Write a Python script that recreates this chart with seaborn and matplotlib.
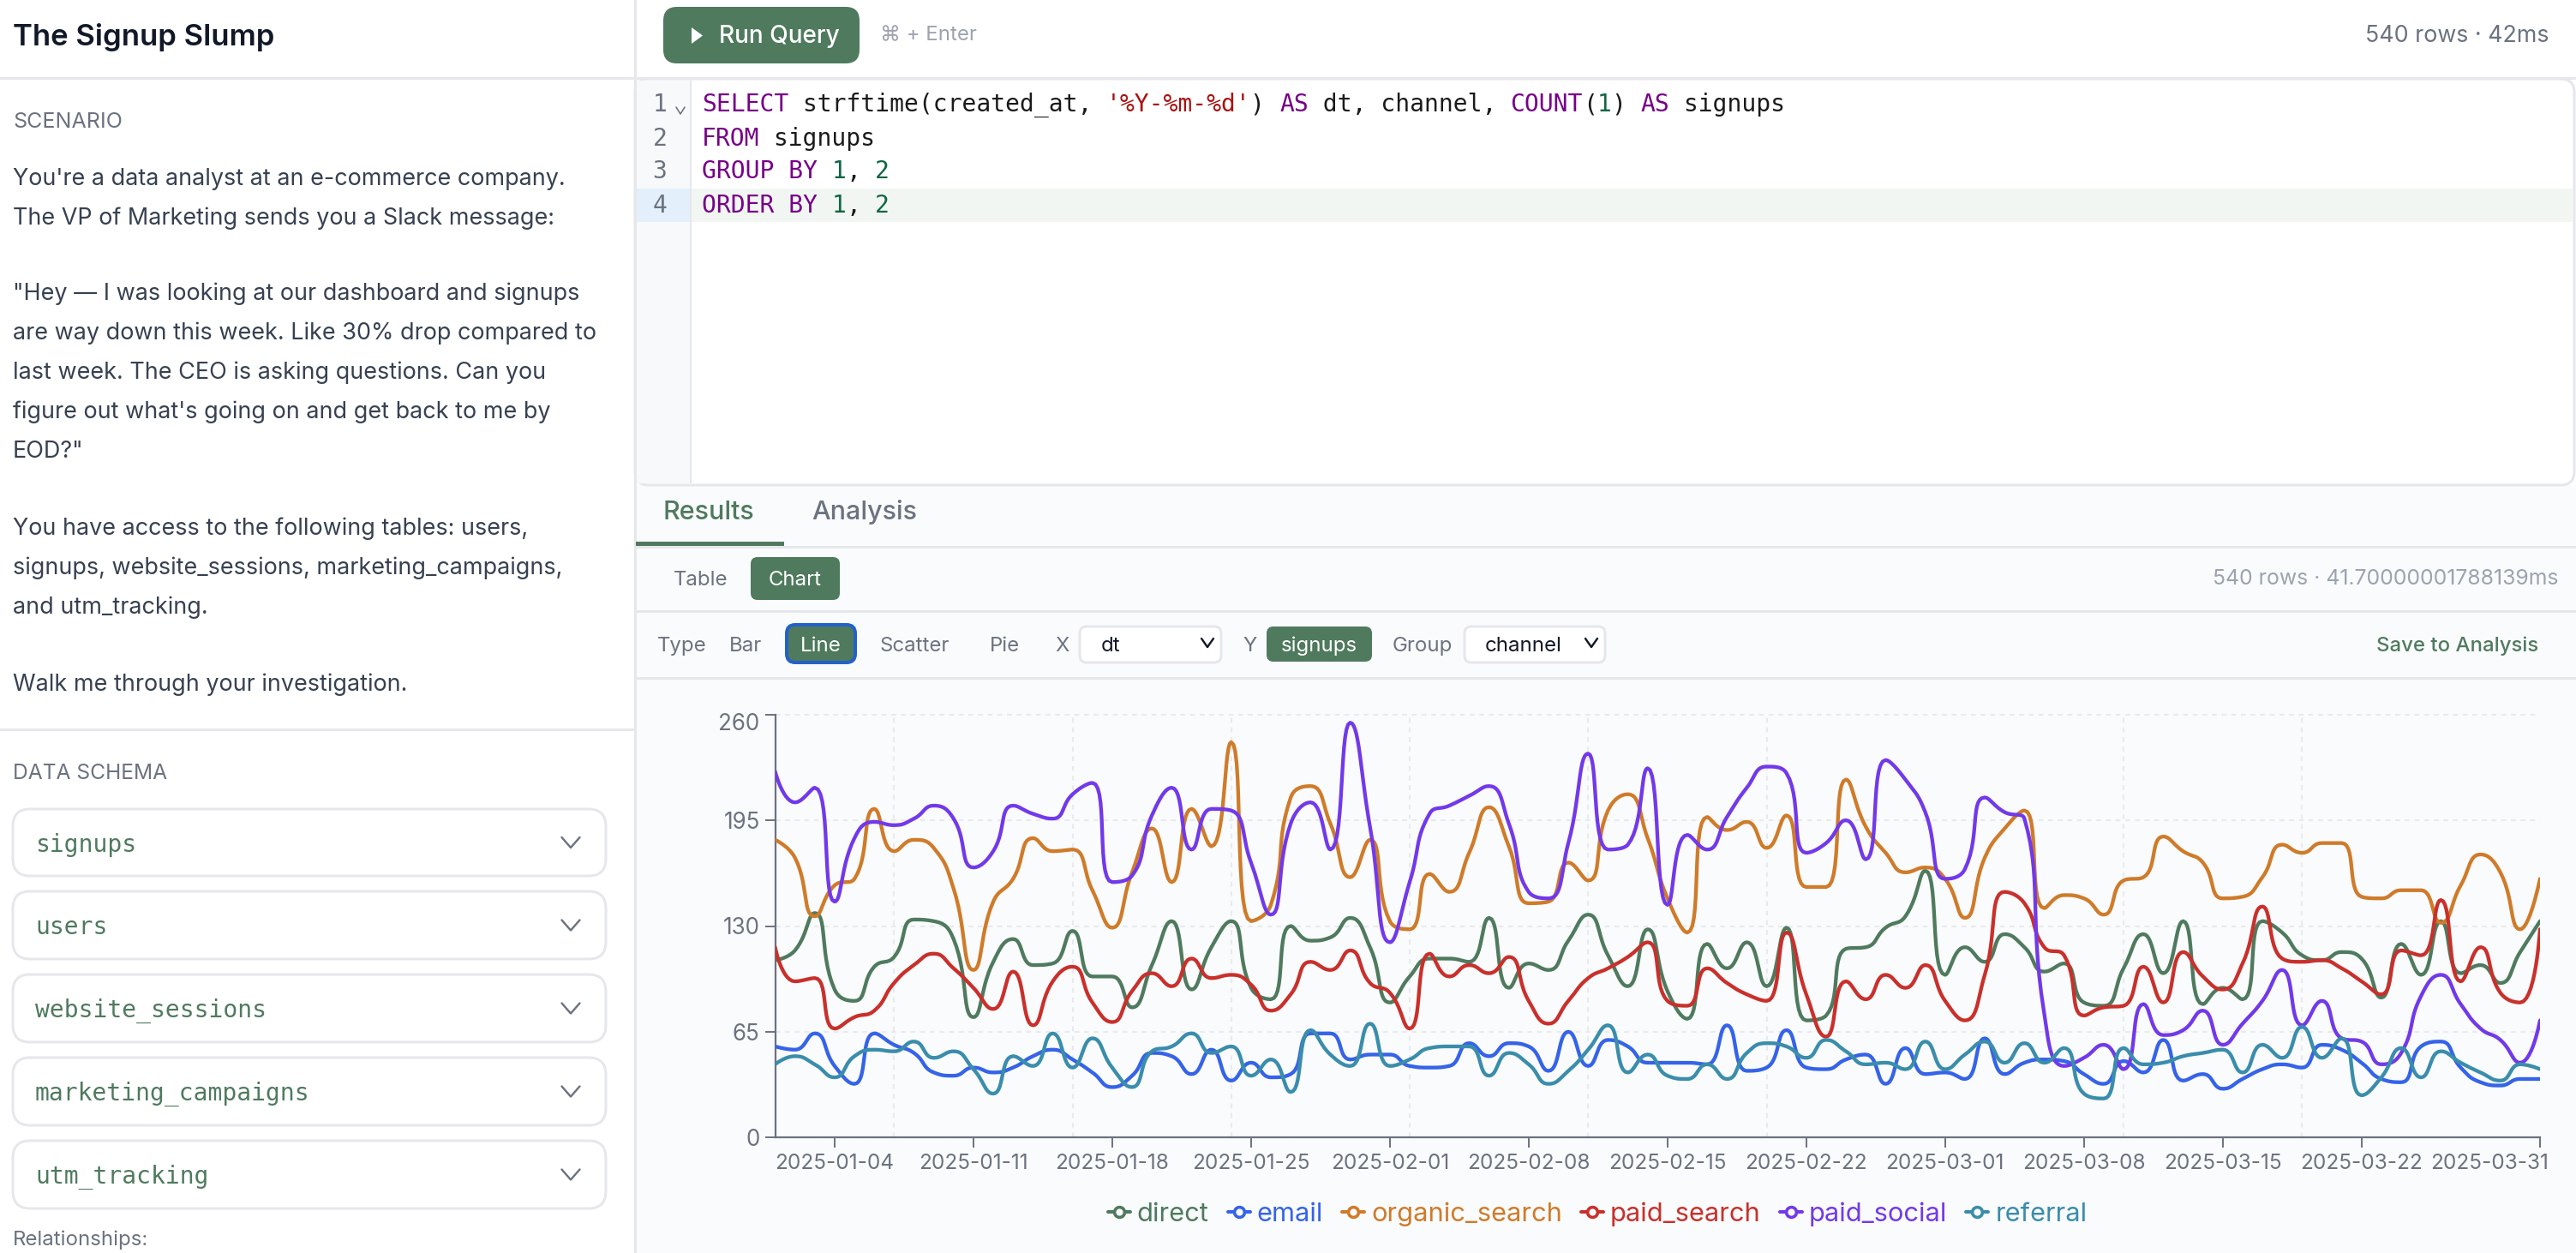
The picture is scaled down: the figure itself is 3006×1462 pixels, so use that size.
import numpy as np
import pandas as pd
import matplotlib
matplotlib.use("Agg")
import matplotlib.pyplot as plt
import seaborn as sns
from matplotlib.lines import Line2D
from matplotlib.patches import FancyBboxPatch, Polygon, Rectangle
from matplotlib.transforms import ScaledTranslation

# Values, one per day
direct = [109, 115, 138, 91, 84, 105, 111, 134, 133, 122, 74, 108, 122, 106, 107, 127, 99, 99, 80, 106, 133,
          91, 117, 133, 92, 85, 130, 121, 123, 135, 117, 83, 99, 110, 110, 108, 135, 92, 107, 103, 121, 137, 112, 93, 128, 90,
          73, 119, 104, 120, 93, 129, 72, 75, 116, 117, 129, 136, 164, 100, 117, 108, 125, 117, 102, 107, 83, 81, 104, 125, 101,
          133, 82, 92, 85, 133, 126, 112, 109, 114, 110, 86, 119, 100, 133, 101, 106, 95, 114, 133]
email = [56, 54, 64, 44, 33, 64, 57, 52, 40, 38, 43, 40, 43, 50, 54, 48, 40, 31, 38, 52, 50,
         39, 54, 35, 46, 37, 39, 64, 64, 48, 51, 51, 44, 43, 44, 58, 50, 58, 56, 41, 65, 44, 60, 56, 46, 46,
         46, 45, 69, 41, 43, 66, 43, 42, 48, 51, 33, 55, 39, 40, 36, 61, 39, 46, 48, 47, 39, 33, 47, 40, 60,
         35, 39, 30, 36, 42, 45, 43, 57, 54, 46, 36, 34, 56, 59, 43, 34, 32, 36, 36]
organic_search = [183, 172, 136, 155, 159, 202, 176, 183, 178, 153, 103, 145, 159, 184, 176, 177, 152, 129, 163, 190, 157,
                  202, 179, 243, 133, 143, 209, 216, 193, 160, 183, 133, 128, 162, 151, 175, 203, 179, 144, 145, 169, 158, 201, 211, 184, 147,
                  126, 197, 189, 194, 178, 198, 154, 154, 220, 191, 175, 163, 166, 159, 135, 172, 190, 201, 141, 149, 147, 137, 158, 160, 185,
                  176, 169, 147, 148, 160, 180, 175, 181, 181, 148, 147, 152, 152, 132, 155, 174, 163, 128, 159]
paid_search = [117, 96, 98, 67, 74, 78, 95, 106, 113, 104, 92, 79, 102, 69, 96, 105, 83, 71, 90, 101, 93,
               110, 98, 100, 94, 78, 88, 108, 103, 115, 95, 89, 67, 113, 99, 106, 101, 111, 84, 70, 84, 98, 104, 111, 120, 84,
               81, 104, 95, 88, 84, 126, 88, 62, 96, 85, 100, 92, 106, 84, 72, 100, 151, 144, 117, 112, 75, 80, 81, 105, 83,
               114, 99, 91, 107, 142, 110, 108, 109, 104, 96, 88, 115, 112, 146, 96, 117, 89, 83, 128]
paid_social = [225, 206, 215, 145, 184, 194, 192, 196, 204, 196, 166, 176, 204, 199, 196, 211, 218, 157, 161, 198, 215,
               177, 202, 201, 169, 137, 193, 206, 177, 255, 191, 120, 157, 199, 204, 210, 216, 193, 151, 147, 181, 236, 177, 180, 227, 143,
               186, 177, 197, 215, 228, 224, 175, 181, 195, 171, 232, 220, 200, 159, 165, 209, 200, 196, 76, 44, 49, 57, 42, 82, 63,
               66, 78, 57, 70, 84, 103, 69, 84, 61, 59, 45, 52, 87, 100, 82, 67, 60, 46, 72]
referral = [45, 50, 45, 37, 50, 54, 53, 59, 49, 53, 42, 27, 50, 44, 64, 43, 61, 43, 31, 53, 56,
            64, 52, 56, 38, 48, 28, 66, 51, 44, 70, 44, 48, 55, 56, 56, 38, 52, 45, 33, 41, 54, 69, 40, 51, 38,
            36, 45, 36, 52, 58, 56, 49, 60, 53, 45, 46, 42, 59, 42, 51, 59, 46, 58, 46, 55, 27, 24, 55, 45, 46,
            50, 52, 54, 40, 57, 49, 68, 49, 61, 26, 37, 55, 37, 53, 46, 40, 35, 45, 42]

dates = [d.strftime("%Y-%m-%d") for d in pd.date_range("2025-01-01", "2025-03-31")]
channels = ["direct", "email", "organic_search", "paid_search", "paid_social", "referral"]
series = [direct, email, organic_search, paid_search, paid_social, referral]
channel_colors = ["#4f7a5e", "#3563e9", "#cf7b2a", "#c9302c", "#7239ea", "#3a8dab"]

x_tick_labels = ["2025-01-04", "2025-01-11", "2025-01-18", "2025-01-25", "2025-02-01", "2025-02-08", "2025-02-15",
                 "2025-02-22", "2025-03-01", "2025-03-08", "2025-03-15", "2025-03-22", "2025-03-31"]
x_grid_dates = ["2025-01-07", "2025-01-16", "2025-01-24", "2025-02-02", "2025-02-11", "2025-02-20", "2025-03-01",
                "2025-03-10", "2025-03-19", "2025-03-31"]
y_ticks = [0, 65, 130, 195, 260]

W, H = 3006, 1462
DPI = 100
AX_LEFT, AX_RIGHT, AX_TOP, AX_BOTTOM = 904.5, 2964, 833.7, 1327.3

GREEN = "#4f7a5e"
BORDER = "#e5e7eb"
PANEL = "#fafbfc"
DARK = "#111827"
BODY = "#374151"
GRAY = "#6b7280"
LIGHT_GRAY = "#9ca3af"


def smooth_curve(values, smooth=0.5, steps=14):
    """Same bezier smoothing the chart library uses: kinks kept, no overshoot past a data point."""
    sx = (AX_RIGHT - AX_LEFT) / (len(values) - 1)
    sy = (AX_BOTTOM - AX_TOP) / 260
    px = np.arange(len(values)) * sx
    py = np.asarray(values, dtype=float) * sy
    n = len(px)
    cp_in = [(px[i], py[i]) for i in range(n)]
    cp_out = [(px[i], py[i]) for i in range(n)]
    for i in range(1, n - 1):
        x, y = px[i], py[i]
        px0, py0, nx, ny = px[i - 1], py[i - 1], px[i + 1], py[i + 1]
        vx, vy = nx - px0, ny - py0
        len_prev = np.hypot(x - px0, y - py0)
        len_next = np.hypot(nx - x, ny - y)
        ratio = len_next / (len_next + len_prev)
        ox = np.clip(x + vx * smooth * ratio, min(nx, x), max(nx, x))
        oy = np.clip(y + vy * smooth * ratio, min(ny, y), max(ny, y))
        ix = x - (ox - x) * len_prev / len_next
        iy = y - (oy - y) * len_prev / len_next
        ix = np.clip(ix, min(px0, x), max(px0, x))
        iy = np.clip(iy, min(py0, y), max(py0, y))
        cp_in[i] = (ix, iy)
        cp_out[i] = (x + (x - ix) * len_next / len_prev, y + (y - iy) * len_next / len_prev)
    t = np.linspace(0, 1, steps, endpoint=False)[:, None]
    parts = []
    for i in range(n - 1):
        p0, p3 = np.array([px[i], py[i]]), np.array([px[i + 1], py[i + 1]])
        p1, p2 = np.array(cp_out[i]), np.array(cp_in[i + 1])
        parts.append((1 - t) ** 3 * p0 + 3 * (1 - t) ** 2 * t * p1 + 3 * (1 - t) * t ** 2 * p2 + t ** 3 * p3)
    parts.append(np.array([[px[-1], py[-1]]]))
    curve = np.vstack(parts)
    return curve[:, 0] / sx, curve[:, 1] / sy


sns.set_theme(style="white")
plt.rcParams["font.family"] = ["Inter", "DejaVu Sans"]

fig = plt.figure(figsize=(W / DPI, H / DPI), dpi=DPI, facecolor="white")

# Page around the chart, drawn in pixel coordinates
ui = fig.add_axes([0, 0, 1, 1], zorder=0)
ui.set_xlim(0, W)
ui.set_ylim(H, 0)
ui.axis("off")


def label(x, y, text, size, color=BODY, **kw):
    kw.setdefault("va", "center")
    ui.text(x, y + 2.5, text, fontsize=size * 72 / DPI, color=color, **kw)


def box(x0, y0, x1, y1, r=0, fc="white", ec="none", lw=2.0, z=1):
    ui.add_patch(FancyBboxPatch((x0, y0), x1 - x0, y1 - y0, boxstyle=f"round,pad=0,rounding_size={r}",
                                fc=fc, ec=ec, lw=lw * 72 / DPI, zorder=z))


def rect(x0, y0, x1, y1, color, z=1):
    ui.add_patch(Rectangle((x0, y0), x1 - x0, y1 - y0, fc=color, ec="none", zorder=z))


def chevron(x, y, w, h, color=GRAY, lw=2.4):
    ui.plot([x - w, x, x + w], [y - h, y + h, y - h], color=color, lw=lw * 72 / DPI, zorder=4)


# Right side background and borders
rect(741, 0, W, 92, "white")
rect(741, 566, W, H, PANEL)
rect(0, 90, 741, 93, BORDER, z=2)
rect(739.5, 0, 742.5, H, BORDER, z=2)
rect(0, 850, 741, 853, BORDER, z=2)
rect(741, 90, W, 93, BORDER, z=2)

# Sidebar
label(15, 41, "The Signup Slump", 34.7, DARK, fontweight="semibold")
label(15, 140, "SCENARIO", 25, GRAY)
sidebar_lines = [
    (206, "You're a data analyst at an e-commerce company."),
    (252, "The VP of Marketing sends you a Slack message:"),
    (340, "\"Hey \u2014 I was looking at our dashboard and signups"),
    (386, "are way down this week. Like 30% drop compared to"),
    (432, "last week. The CEO is asking questions. Can you"),
    (478, "figure out what's going on and get back to me by"),
    (524, "EOD?\""),
    (614, "You have access to the following tables: users,"),
    (660, "signups, website_sessions, marketing_campaigns,"),
    (706, "and utm_tracking."),
    (796, "Walk me through your investigation."),
]
for y, line in sidebar_lines:
    label(15, y, line, 27, BODY)

label(15, 900, "DATA SCHEMA", 24.6, GRAY)
schema_tables = [("signups", 944, 1022), ("users", 1040, 1119), ("website_sessions", 1137, 1216),
                 ("marketing_campaigns", 1234, 1313), ("utm_tracking", 1331, 1410)]
for name, y0, y1 in schema_tables:
    box(15, y0, 707, y1, r=20, ec=BORDER, lw=3)
    label(41, (y0 + y1) / 2, name, 28, GREEN, family="DejaVu Sans Mono")
    chevron(666, (y0 + y1) / 2, 10.5, 6)
label(15, 1444, "Relationships:", 24, GRAY)

# Toolbar
box(774, 8, 1003, 74, r=16, fc=GREEN)
ui.add_patch(Polygon([(807, 32), (807, 51), (820, 41.5)], fc="white", ec="none", zorder=3))
label(839, 40, "Run Query", 28, "white", fontweight="medium", zorder=3)
label(1027, 39, "\u2318 + Enter", 24, LIGHT_GRAY)
label(2975, 39.5, "540 rows \u00b7 42ms", 26.8, GRAY, ha="right")

# Editor
box(741, 92, 3004, 566, r=16, ec=BORDER, lw=3)
rect(743, 94, 805, 564, "#f8f9fa", z=2)
rect(805, 94, 807, 564, BORDER, z=2)
rect(743, 220, 805, 259, "#e3f0fb", z=2)
rect(807, 220, 3002, 259, "#f1f6f2", z=2)

KEYWORD = "#770088"
NUMBER = "#116644"
STRING = "#aa1111"
CODE = "#1a1a1a"
CHAR_W = 16.85
code_lines = [
    (120, [("SELECT", KEYWORD), (" strftime(created_at, ", CODE), ("'%Y-%m-%d'", STRING), (") ", CODE), ("AS", KEYWORD),
           (" dt, channel, ", CODE), ("COUNT", KEYWORD), ("(", CODE), ("1", NUMBER), (") ", CODE), ("AS", KEYWORD),
           (" signups", CODE)]),
    (159, [("FROM", KEYWORD), (" signups", CODE)]),
    (198, [("GROUP BY", KEYWORD), (" ", CODE), ("1", NUMBER), (", ", CODE), ("2", NUMBER)]),
    (238, [("ORDER BY", KEYWORD), (" ", CODE), ("1", NUMBER), (", ", CODE), ("2", NUMBER)]),
]
for num, (y, tokens) in enumerate(code_lines, start=1):
    label(770, y, str(num), 28, GRAY, family="DejaVu Sans Mono", ha="center", zorder=3)
    cursor = 0
    for text, color in tokens:
        label(819 + cursor * CHAR_W, y, text, 28, color, family="DejaVu Sans Mono", zorder=3)
        cursor += len(text)
chevron(794, 129, 5, 4, color=GRAY, lw=1.6)

# Results tabs and chart controls
label(774, 595, "Results", 30.5, GREEN, fontweight="medium")
label(947, 595, "Analysis", 30.5, GRAY, fontweight="medium")
rect(741, 637, W, 640, BORDER, z=2)
rect(742, 632, 915, 637, GREEN, z=3)
label(786, 674.5, "Table", 24, GRAY)
box(876, 650, 980, 700, r=8, fc=GREEN)
label(928, 674.5, "Chart", 24, "white", ha="center", zorder=3)
label(2985, 673, "540 rows \u00b7 41.70000001788139ms", 24.8, LIGHT_GRAY, ha="right")
rect(741, 712, W, 715, BORDER, z=2)

ROW_Y = 751.5
label(767, ROW_Y, "Type", 24, GRAY)
label(851, ROW_Y, "Bar", 24, GRAY)
box(918, 729, 998, 773, r=10, fc=GREEN, ec="#2361c8", lw=4)
label(958, ROW_Y, "Line", 24, "white", ha="center", zorder=3)
label(1027, ROW_Y, "Scatter", 24, GRAY)
label(1155, ROW_Y, "Pie", 24, GRAY)
label(1231, ROW_Y, "X", 24, GRAY)
box(1260, 731, 1425, 773, r=8, ec=BORDER, lw=3)
label(1285, ROW_Y, "dt", 24, DARK)
chevron(1409, 750, 7, 5, color=DARK)
label(1450, ROW_Y, "Y", 24, GRAY)
box(1478, 731, 1601, 772, r=8, fc=GREEN)
label(1539.5, ROW_Y, "signups", 24, "white", ha="center", zorder=3)
label(1625, ROW_Y, "Group", 24, GRAY)
box(1709, 731, 1873, 773, r=8, ec=BORDER, lw=3)
label(1733, ROW_Y, "channel", 24, DARK)
chevron(1857, 750, 7, 5, color=DARK)
label(2962, ROW_Y, "Save to Analysis", 24, GREEN, ha="right", fontweight="medium")
rect(741, 790, W, 793, BORDER, z=2)

# Chart
ax = fig.add_axes([AX_LEFT / W, 1 - AX_BOTTOM / H, (AX_RIGHT - AX_LEFT) / W, (AX_BOTTOM - AX_TOP) / H], zorder=2)
ax.set_facecolor("none")

frames = []
for name, values in zip(channels, series):
    xs, ys = smooth_curve(values)
    frames.append(pd.DataFrame({"day": xs, "signups": ys, "channel": name}))
df = pd.concat(frames, ignore_index=True)

sns.lineplot(data=df, x="day", y="signups", hue="channel", hue_order=channels, palette=channel_colors,
             estimator=None, sort=False, errorbar=None, linewidth=3.1, legend=False, ax=ax)
for line in ax.get_lines():
    line.set_solid_joinstyle("round")
    line.set_zorder(3)

ax.set_xlim(0, len(dates) - 1)
ax.set_ylim(0, 260)
ax.set_xlabel("")
ax.set_ylabel("")
ax.set_yticks(y_ticks)
ax.set_xticks([dates.index(d) for d in x_tick_labels])
ax.set_xticklabels(x_tick_labels)
ax.set_xticks([dates.index(d) for d in x_grid_dates], minor=True)

ax.grid(True, axis="y", which="major", color="#e8eaee", linestyle=(0, (2.7, 2.7)), linewidth=1.5, clip_on=False)
ax.grid(True, axis="x", which="minor", color="#e8eaee", linestyle=(0, (2.7, 2.7)), linewidth=1.5, clip_on=False)
ax.grid(False, axis="x", which="major")
ax.set_axisbelow(True)

sns.despine(ax=ax)
for side in ("left", "bottom"):
    ax.spines[side].set_color(GRAY)
    ax.spines[side].set_linewidth(1.6)
ax.tick_params(axis="both", which="major", colors=GRAY, length=8.3, width=1.4, left=True, bottom=True)
ax.tick_params(axis="x", which="major", labelsize=24.4 * 72 / DPI, pad=5.2)
ax.tick_params(axis="y", which="major", labelsize=26 * 72 / DPI, pad=4.5)
ax.tick_params(axis="x", which="minor", length=0)

# The first y label and the last x label are pushed inside by the chart library
ylabels = ax.get_yticklabels()
ylabels[-1].set_transform(ylabels[-1].get_transform() + ScaledTranslation(0, -8 / DPI, fig.dpi_scale_trans))
xlabels = ax.get_xticklabels()
xlabels[-1].set_transform(xlabels[-1].get_transform() + ScaledTranslation(-59 / DPI, 0, fig.dpi_scale_trans))

handles = [Line2D([0], [0], color=c, lw=2.9, marker="o", markersize=8.5, markerfacecolor=PANEL,
                  markeredgecolor=c, markeredgewidth=2.6, label=n) for n, c in zip(channels, channel_colors)]
ax.legend(handles=handles, ncol=6, loc="center", bbox_to_anchor=(1864 / W, 1 - 1417 / H), bbox_transform=fig.transFigure,
          frameon=False, labelcolor="linecolor", fontsize=30.8 * 72 / DPI, handlelength=0.85, handletextpad=0.25,
          columnspacing=0.72, borderpad=0, borderaxespad=0)

plt.savefig("out.png", dpi=DPI)
